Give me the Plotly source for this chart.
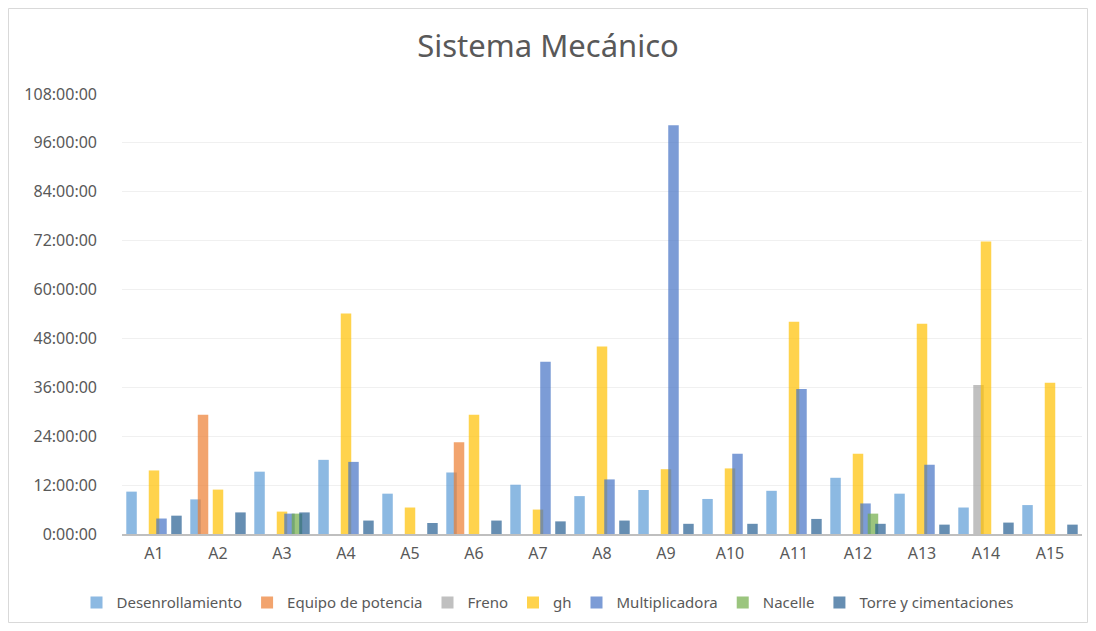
import plotly.graph_objects as go

categorias = ["A1", "A2", "A3", "A4", "A5", "A6", "A7", "A8", "A9", "A10",
              "A11", "A12", "A13", "A14", "A15"]

# horas por categoria (None = sin dato)
desenrollamiento = [10.4, 8.5, 15.3, 18.2, 9.9, 15.1, 12.1, 9.3, 10.8, 8.6, 10.6, 13.8, 9.9, 6.5, 7.1]
equipo_potencia = [None, 29.3, None, None, None, 22.5, None, None, None, None, None, None, None, None, None]
freno = [None, None, None, None, None, None, None, None, None, None, None, None, None, 36.6, None]
gh = [15.6, 10.9, 5.5, 54.1, 6.5, 29.3, 6.0, 46.0, 15.9, 16.1, 52.1, 19.7, 51.6, 71.8, 37.1]
multiplicadora = [3.8, None, 5.0, 17.7, None, None, 42.3, 13.4, 100.3, 19.7, 35.6, 7.5, 17.0, None, None]
nacelle = [None, None, 5.0, None, None, None, None, None, None, None, None, 5.0, None, None, None]
torre = [4.5, 5.3, 5.3, 3.3, 2.7, 3.3, 3.1, 3.3, 2.5, 2.5, 3.7, 2.5, 2.3, 2.8, 2.3]

series = [
    ("Desenrollamiento", desenrollamiento, "rgba(91,155,213,0.7)"),
    ("Equipo de potencia", equipo_potencia, "rgba(237,125,49,0.7)"),
    ("Freno", freno, "rgba(165,165,165,0.7)"),
    ("gh", gh, "rgba(255,192,0,0.7)"),
    ("Multiplicadora", multiplicadora, "rgba(68,114,196,0.7)"),
    ("Nacelle", nacelle, "rgba(112,173,71,0.7)"),
    ("Torre y cimentaciones", torre, "rgba(37,94,145,0.7)"),
]

ticks_horas = list(range(0, 109, 12))
ticks_texto = ["%d:00:00" % h for h in ticks_horas]

gris = "#595959"
posiciones = list(range(len(categorias)))
ancho = 0.164
paso = 0.117

fig = go.Figure()
for i, (nombre, valores, color) in enumerate(series):
    fig.add_trace(go.Bar(
        x=posiciones, y=valores, name=nombre,
        marker=dict(color=color, line=dict(width=0)),
        width=ancho, offset=(i - 3) * paso - ancho / 2,
    ))

# la pagina tiene 8px de margen, por eso la figura es algo menor que la ventana
fig.update_layout(
    barmode="overlay",
    width=1080, height=615,
    paper_bgcolor="white", plot_bgcolor="white",
    margin=dict(l=114, r=6, t=86, b=89),
    font=dict(family="Noto Sans, sans-serif", color=gris, size=16),
    title=dict(text="Sistema Mecánico", x=0.5, xref="container", xanchor="center",
               y=0.938, yref="container", yanchor="middle",
               font=dict(size=31, color=gris)),
    legend=dict(orientation="h", x=0.5, xref="container", xanchor="center",
                y=0.033, yref="container", yanchor="middle",
                font=dict(size=15, color=gris), itemwidth=30, traceorder="normal"),
    xaxis=dict(range=[-0.5, 14.5], tickvals=posiciones, ticktext=categorias,
               showgrid=False, zeroline=False, showline=True, linecolor="#BFBFBF",
               linewidth=1.5, ticks="", ticklabelstandoff=4,
               tickfont=dict(size=16, color=gris)),
    yaxis=dict(range=[0, 108], tickvals=ticks_horas, ticktext=ticks_texto,
               showgrid=True, gridcolor="#F0F0F0", zeroline=False, showline=False,
               ticks="", ticklabelstandoff=24, tickfont=dict(size=16, color=gris)),
    shapes=[dict(type="rect", xref="paper", yref="paper",
                 x0=-113.5 / 960, x1=1 + 5.5 / 960, y0=-88.5 / 440, y1=1 + 85.5 / 440,
                 line=dict(color="#D9D9D9", width=1), fillcolor="rgba(0,0,0,0)")],
)

fig.write_html("out.html")
